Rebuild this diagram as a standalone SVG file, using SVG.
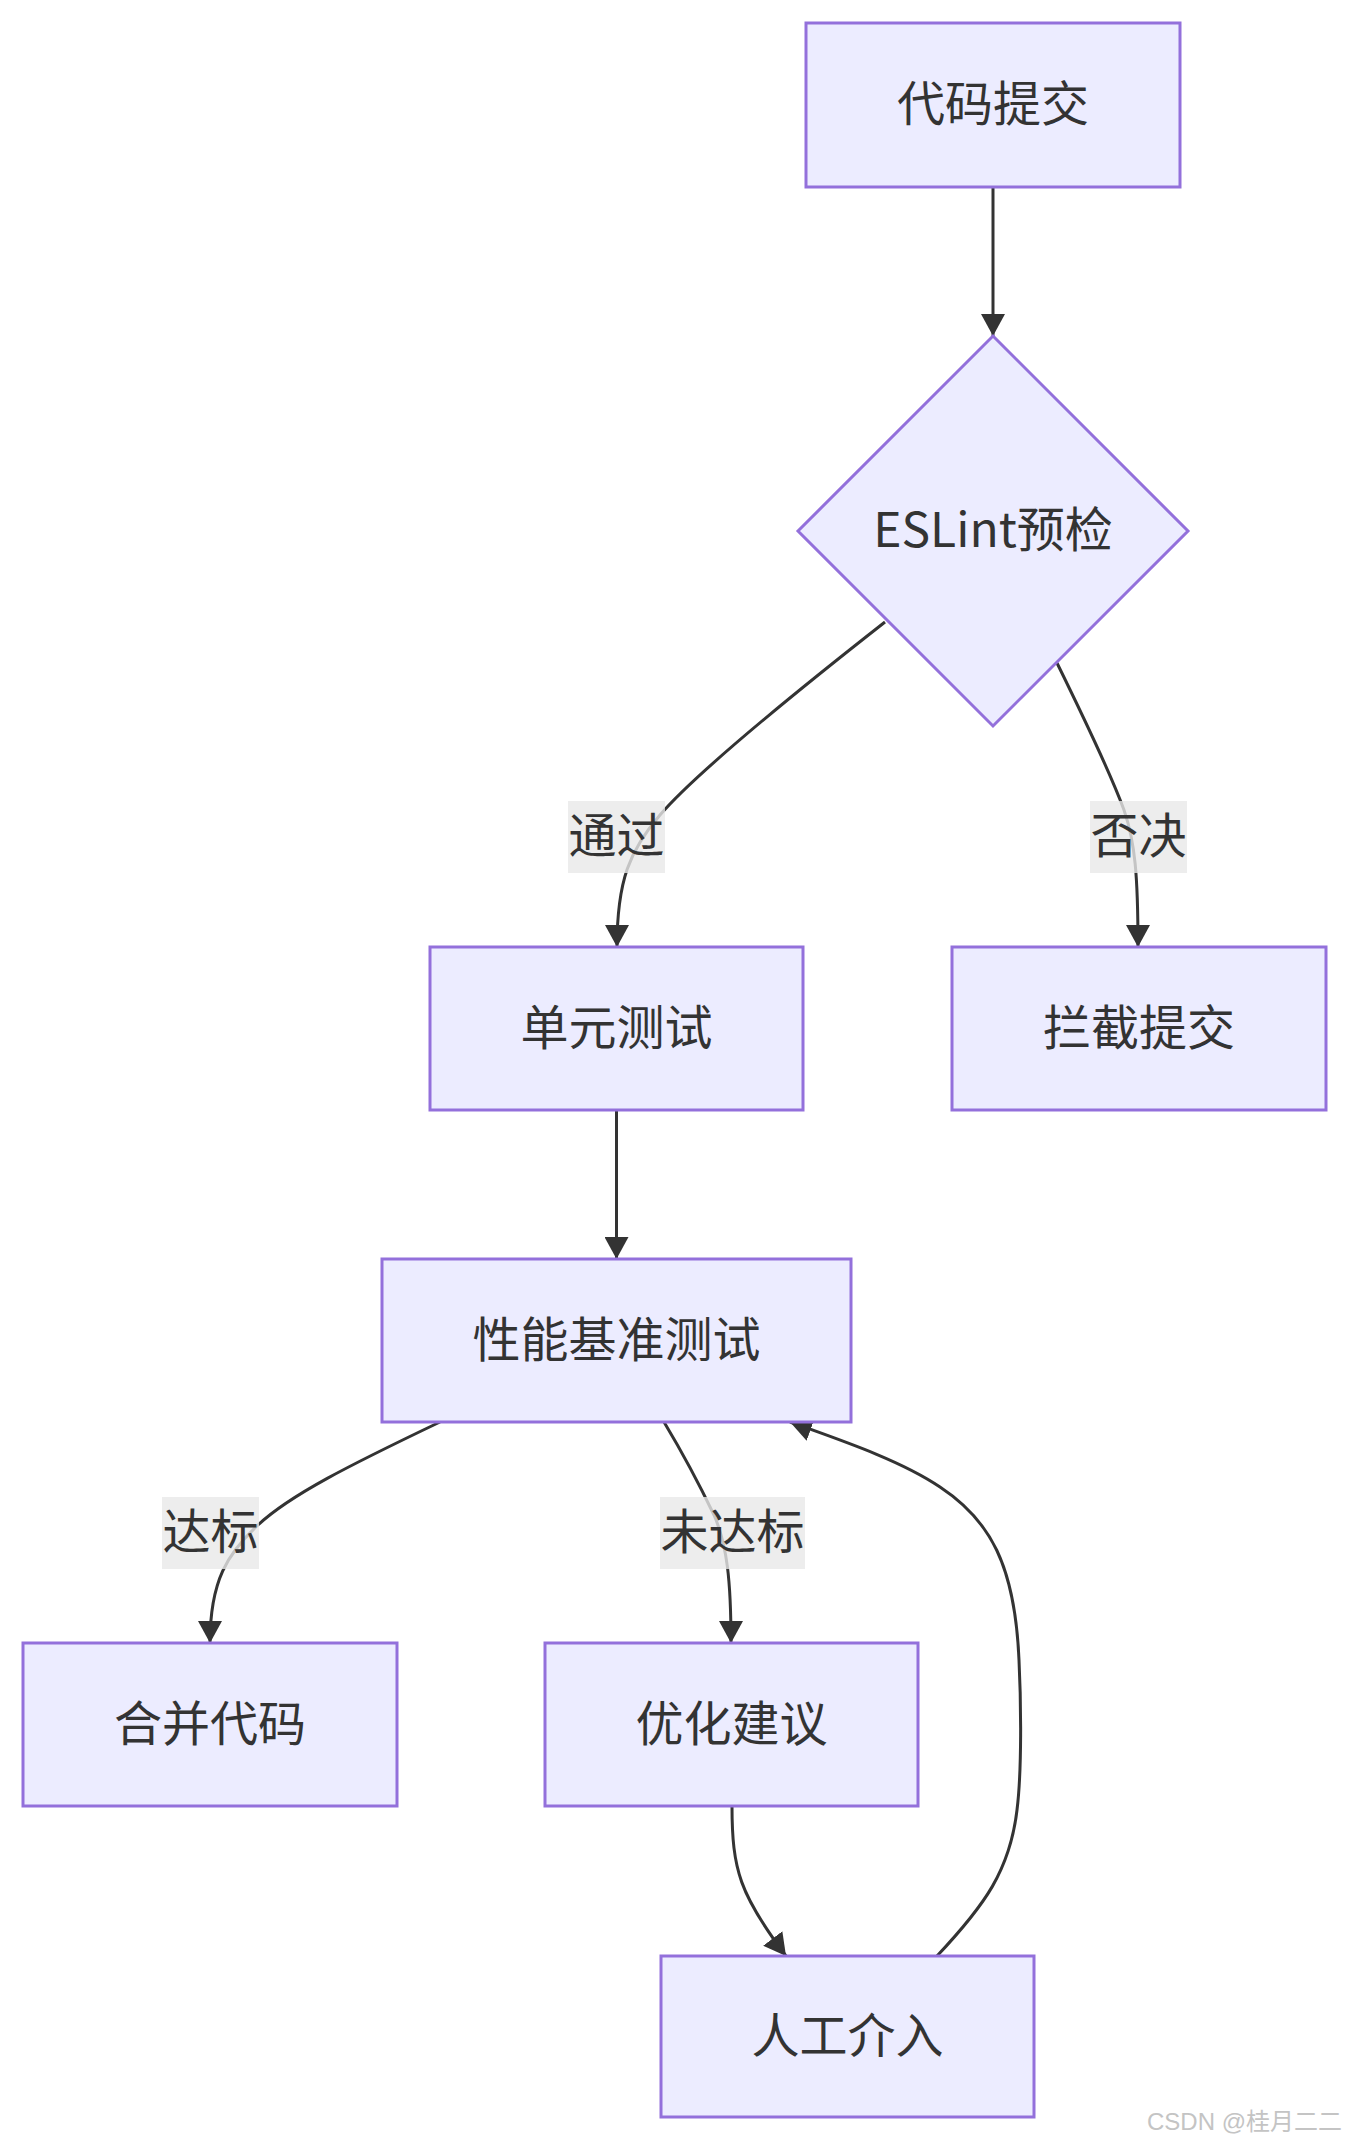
<svg xmlns="http://www.w3.org/2000/svg" width="1348" height="2142" viewBox="0 0 1348 2142">
<style>
  .node rect, .node polygon { fill: #ECECFF; stroke: #9370DB; stroke-width: 3; }
  .node text { font-family: "Noto Sans CJK SC", "Noto Sans", sans-serif; font-size: 48px; fill: #333333; text-anchor: middle; dominant-baseline: central; }
  .edge { fill: none; stroke: #333333; stroke-width: 3; marker-end: url(#arrow); }
  .lbl rect { fill: rgba(232,232,232,0.8); }
  .lbl text { font-family: "Noto Sans CJK SC", "Noto Sans", sans-serif; font-size: 48px; fill: #333333; text-anchor: middle; dominant-baseline: central; }
  .wm { font-family: "Liberation Sans", "Noto Sans CJK SC", sans-serif; font-size: 24px; fill: #c4c4c4; }
</style>
<defs>
  <marker id="arrow" viewBox="0 0 22 24" refX="22" refY="12" markerWidth="22" markerHeight="24" markerUnits="userSpaceOnUse" orient="auto">
    <path d="M0,0 L22,12 L0,24 z" fill="#333333"/>
  </marker>
</defs>
<rect width="1348" height="2142" fill="#ffffff"/>

<g id="connectors">
  <path class="edge" d="M993,187 L993,336"/>
  <path class="edge" d="M885,622 C760,720 690,780 660,815 C630,850 617,880 617,947"/>
  <path class="edge" d="M1057,663 C1085,720 1113,780 1124,810 C1135,842 1138,875 1138,947"/>
  <path class="edge" d="M616.5,1110 L616.5,1259"/>
  <path class="edge" d="M440,1422 C350,1465 290,1495 258,1525 C228,1553 210,1580 210,1643"/>
  <path class="edge" d="M664,1422 C688,1462 703,1492 714,1515 C727,1545 731,1580 731,1643"/>
  <path class="edge" d="M732,1806 C732,1870 740,1895 786,1956"/>
  <path class="edge" d="M937,1956 C985,1905 1010,1870 1017,1810 C1022,1770 1021,1700 1019,1660 C1015,1565 990,1520 940,1487 C900,1460 840,1440 790,1422"/>
</g>

<g id="edge-labels">
  <g class="lbl" id="label-pass"><rect x="568" y="801" width="97" height="72"/><text x="616.5" y="832">通过</text></g>
  <g class="lbl" id="label-reject"><rect x="1090" y="801" width="97" height="72"/><text x="1138.5" y="832">否决</text></g>
  <g class="lbl" id="label-ok"><rect x="162" y="1497" width="97" height="72"/><text x="210.5" y="1528">达标</text></g>
  <g class="lbl" id="label-notok"><rect x="660" y="1497" width="145" height="72"/><text x="732.5" y="1528">未达标</text></g>
</g>

<g class="node" id="node-commit"><rect x="806" y="23" width="374" height="164"/><text x="993" y="100">代码提交</text></g>
<g class="node" id="node-eslint"><polygon points="993,336 1188,531 993,726 798,531"/><text x="993" y="526">ESLint预检</text></g>
<g class="node" id="node-unit"><rect x="430" y="947" width="373" height="163"/><text x="616.5" y="1023.5">单元测试</text></g>
<g class="node" id="node-block"><rect x="952" y="947" width="374" height="163"/><text x="1139" y="1023.5">拦截提交</text></g>
<g class="node" id="node-perf"><rect x="382" y="1259" width="469" height="163"/><text x="616.5" y="1335.5">性能基准测试</text></g>
<g class="node" id="node-merge"><rect x="23" y="1643" width="374" height="163"/><text x="210" y="1719.5">合并代码</text></g>
<g class="node" id="node-optimize"><rect x="545" y="1643" width="373" height="163"/><text x="731.5" y="1719.5">优化建议</text></g>
<g class="node" id="node-manual"><rect x="661" y="1956" width="373" height="161"/><text x="847.5" y="2031.5">人工介入</text></g>

<text class="wm" x="1147" y="2130">CSDN @桂月二二</text>
</svg>
